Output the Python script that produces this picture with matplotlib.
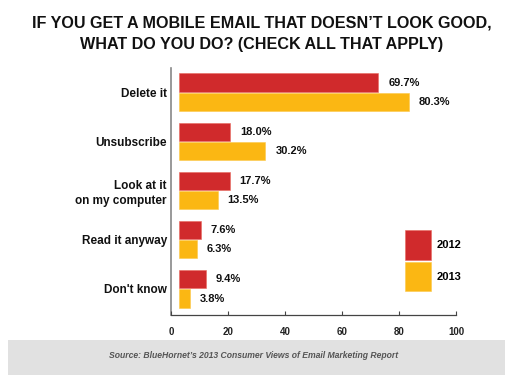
import numpy as np
import matplotlib.pyplot as plt
from matplotlib.patches import Rectangle

plt.rcParams['font.family'] = ['Liberation Sans', 'DejaVu Sans']

categories = ["Delete it", "Unsubscribe", "Look at it\non my computer", "Read it anyway", "Don't know"]
values_2012 = [69.7, 18.0, 17.7, 7.6, 9.4]
values_2013 = [80.3, 30.2, 13.5, 6.3, 3.8]
series_names = ["2012", "2013"]
xticks = [0, 20, 40, 60, 80, 100]

RED = "#d02a2c"
YELLOW = "#fbb713"
BAR_H = 0.37
OFF = 0.195

fig = plt.figure(figsize=(5.25, 3.77), dpi=100)
fig.patch.set_facecolor("white")
ax = fig.add_axes([0.3257, 0.1645, 0.543, 0.655])

y = np.arange(len(categories))
ax.barh(y - OFF, values_2012, height=BAR_H, color=RED, edgecolor="#e86a5e", linewidth=0.4)
ax.barh(y + OFF, values_2013, height=BAR_H, color=YELLOW, edgecolor="#fcc94a", linewidth=0.4)

for yi, v in zip(y, values_2012):
    ax.text(v + 3.5, yi - OFF, f"{v:.1f}%", va="center", ha="left",
            fontsize=8, fontweight="bold", color="#111111")
for yi, v in zip(y, values_2013):
    ax.text(v + 3.5, yi + OFF, f"{v:.1f}%", va="center", ha="left",
            fontsize=8, fontweight="bold", color="#111111")

# bars sit a little right of the axis line in the original
ax.set_xlim(-2.8, 96.9)
ax.set_ylim(4.53, -0.49)
ax.set_xticks([])
ax.set_yticks(y)
ax.set_yticklabels(categories, fontsize=8.5, fontweight="bold", color="#111111", linespacing=1.35)
ax.tick_params(axis="y", length=0, pad=3)

for s in ["top", "right", "bottom"]:
    ax.spines[s].set_visible(False)
ax.spines["left"].set_color("#888888")
ax.spines["left"].set_linewidth(1.2)

# tick scale drawn across the full axis width
ax2 = ax.twiny()
ax2.xaxis.set_ticks_position("bottom")
ax2.xaxis.set_label_position("bottom")
ax2.set_xlim(0, 100)
ax2.set_xticks(xticks)
ax2.set_xticklabels([str(t) for t in xticks], fontsize=7, fontweight="bold", color="#222222")
ax2.tick_params(axis="x", direction="in", length=3, width=0.8, color="#444444", pad=9)
for s in ["top", "right", "left"]:
    ax2.spines[s].set_visible(False)
ax2.spines["bottom"].set_color("#444444")
ax2.spines["bottom"].set_linewidth(0.9)

# legend squares
fig.patches.append(Rectangle((405 / 525, 1 - 260 / 377), 26 / 525, 30 / 377,
                             transform=fig.transFigure, facecolor=RED, edgecolor="#e86a5e", lw=0.4))
fig.patches.append(Rectangle((405 / 525, 1 - 291 / 377), 26 / 525, 29 / 377,
                             transform=fig.transFigure, facecolor=YELLOW, edgecolor="#fcc94a", lw=0.4))
fig.text(437 / 525, 1 - 245 / 377, series_names[0], fontsize=8, fontweight="bold", va="center", ha="left")
fig.text(437 / 525, 1 - 277 / 377, series_names[1], fontsize=8, fontweight="bold", va="center", ha="left")

fig.text(262 / 525, 1 - 33.5 / 377,
         "IF YOU GET A MOBILE EMAIL THAT DOESN\u2019T LOOK GOOD,\nWHAT DO YOU DO? (CHECK ALL THAT APPLY)",
         ha="center", va="center", fontsize=11.6, fontweight="bold", linespacing=1.5, color="#111111")

# source band
fig.patches.append(Rectangle((8 / 525, 1 - 375 / 377), 497 / 525, 35 / 377,
                             transform=fig.transFigure, facecolor="#e1e1e1", edgecolor="none"))
fig.text(254 / 525, 1 - 356 / 377, "Source: BlueHornet\u2019s 2013 Consumer Views of Email Marketing Report",
         ha="center", va="center", fontsize=6.2, fontstyle="italic", fontweight="bold", color="#555555")

fig.savefig("out.png", dpi=100)
